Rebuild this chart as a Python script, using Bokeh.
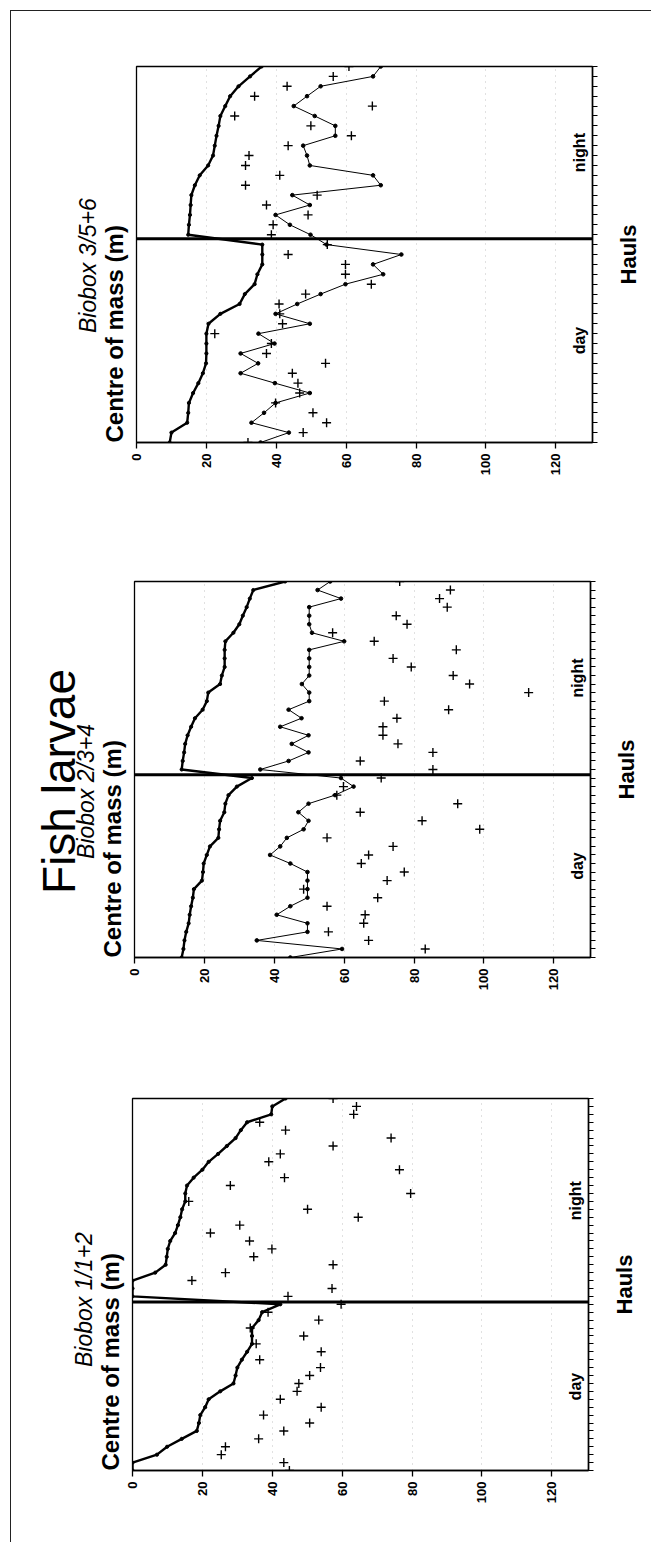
import math
from bokeh.plotting import figure
from bokeh.models import Range1d, FixedTicker, Label, Span
from bokeh.layouts import column, row
from bokeh.core.properties import value
from bokeh.embed import file_html
from bokeh.resources import INLINE

FONT = "Liberation Sans"
depth_ticks = [0, 20, 40, 60, 80, 100, 120]

# ---------------- Biobox 3/5+6 (top panel) ----------------
p1_hauls_day = list(range(0, 21))
p1_hauls_night = list(range(21, 39))
p1_boundary = 20.6
p1_thick_day = [9.5, 10.0, 14.5, 14.8, 15.0, 16.2, 17.7, 19.0, 19.9, 20.0, 20.0,
                20.0, 20.6, 24.0, 29.5, 31.0, 33.8, 34.6, 36.0, 36.0, 36.0]
p1_thick_night = [14.8, 15.0, 15.3, 15.5, 15.7, 16.7, 18.1, 20.5, 21.9, 22.4,
                  22.9, 23.5, 24.0, 25.4, 26.8, 29.2, 32.5, 35.8]
p1_thin_day = [35.5, 43.6, 32.9, 36.5, 39.8, 49.6, 39.6, 29.8, 34.8, 29.8, 39.5,
               34.9, 49.6, 39.8, 46.0, 52.7, 59.8, 70.6, 67.7, 75.8, 54.4]
p1_thin_night = [49.8, 43.9, 39.8, 49.6, 44.6, 69.9, 67.7, 49.6, 48.8, 47.7,
                 56.9, 56.9, 51.0, 45.0, 48.8, 52.7, 67.7, 69.9]
p1_cross_day = [31.9, 47.7, 54.4, 50.5, 39.8, 46.7, 46.2, 44.6, 54.1, 37.2, 38.6,
                22.4, 41.8, 41.0, 40.8, 48.4, 67.2, 59.8, 59.8, 43.4, 54.6]
p1_cross_night = [38.6, 39.1, 49.1, 37.2, 51.7, 31.2, 41.0, 31.2, 32.2, 43.4,
                  61.5, 49.9, 28.1, 67.5, 33.8, 43.1, 56.3, 60.8]

# ---------------- Biobox 2/3+4 (middle panel) ----------------
p2_hauls_day = list(range(0, 22))
p2_hauls_night = list(range(22, 45))
p2_cross_hauls_day = list(range(1, 22))
p2_boundary = 21.4
p2_thick_day = [13.5, 14.0, 14.3, 14.8, 15.5, 15.8, 16.2, 16.7, 17.0, 19.3, 19.6,
                19.8, 20.7, 21.6, 24.0, 24.2, 24.5, 25.7, 26.0, 26.9, 29.3, 33.6]
p2_thick_night = [13.5, 13.8, 14.2, 14.5, 15.2, 16.2, 17.3, 19.5, 20.7, 21.1, 24.5,
                  25.0, 25.8, 25.8, 25.8, 26.0, 28.3, 30.0, 31.0, 32.1, 33.0, 34.0, 43.1]
p2_thin_day = [44.6, 59.4, 35.0, 49.5, 49.5, 40.7, 44.6, 49.5, 49.5, 49.5, 49.5,
               44.6, 38.8, 41.7, 43.6, 48.4, 49.8, 46.9, 49.8, 57.4, 62.7, 59.1]
p2_thin_night = [36.0, 44.1, 49.8, 45.0, 49.8, 41.7, 47.8, 44.1, 50.0, 50.0, 47.9,
                 50.0, 50.0, 50.0, 50.0, 60.0, 50.8, 50.0, 50.0, 50.0, 59.1, 52.4, 56.0]
p2_cross_day = [83.2, 67.0, 55.5, 65.6, 66.0, 55.1, 69.6, 48.4, 72.3, 77.2, 64.9,
                67.0, 74.0, 55.1, 98.8, 82.3, 64.6, 92.5, 57.9, 59.8, 70.6]
p2_cross_night = [85.4, 64.6, 85.4, 75.4, 71.1, 71.1, 75.1, 89.9, 71.5, 112.8, 95.9,
                  91.2, 79.2, 74.0, 92.1, 68.6, 56.7, 78.0, 74.9, 89.5, 87.3, 90.4, 75.9]

# ---------------- Biobox 1/1+2 (bottom panel) ----------------
p3_hauls_day = list(range(0, 22))
p3_hauls_night = list(range(22, 48))
p3_boundary = 21.3
p3_thick_day = [0.0, 0.0, 7.0, 9.9, 14.1, 18.4, 19.0, 19.4, 20.8, 21.8, 25.1,
                28.9, 29.5, 30.0, 31.3, 32.8, 34.2, 34.2, 34.2, 36.1, 37.1, 42.3]
p3_thick_night = [0.0, 0.0, 0.0, 6.5, 9.5, 9.8, 10.1, 10.8, 12.2, 13.0, 13.7, 14.2,
                  15.1, 15.1, 15.6, 17.5, 20.0, 21.8, 24.5, 27.0, 29.5, 31.0, 32.8,
                  39.7, 40.0, 43.8]
p3_cross_day = [44.9, 43.3, 25.4, 26.6, 36.1, 43.3, 50.7, 37.5, 54.0, 42.3, 47.1,
                47.6, 50.7, 53.8, 36.4, 54.0, 35.4, 49.0, 33.7, 53.3, 38.8, 59.7]
p3_cross_night = [44.5, 57.1, 17.0, 26.6, 57.4, 34.7, 39.9, 33.5, 22.3, 30.7, 64.6,
                  50.1, 16.1, 79.6, 28.0, 43.5, 76.4, 39.0, 42.3, 57.4, 74.0, 43.8,
                  36.4, 63.3, 64.1, 57.4]

TOTAL_W = 640
MAIN_PAD_L = 6
MAIN_W = MAIN_PAD_L + 456 + 12


def strip(width, height, top, bottom, yrange):
    s = figure(width=width, height=height, x_range=Range1d(0, width), y_range=yrange,
               output_backend="svg", toolbar_location=None, title=None,
               x_axis_location=None, y_axis_location=None,
               min_border_left=0, min_border_right=0,
               min_border_top=top, min_border_bottom=bottom)
    s.outline_line_color = None
    s.grid.visible = False
    s.background_fill_color = "white"
    s.border_fill_color = "white"
    return s


def make_panel(height, top, bottom, frame_left, ymax, boundary,
               thick, thin, crosses, title, title_y, day_y, night_y, big=None):
    # frame_left: page x of the frame's left edge (content starts at 11.5)
    wl = int(round(frame_left - 11.5 - MAIN_PAD_L))
    wr = TOTAL_W - wl - MAIN_W
    yr = Range1d(0, ymax)
    p = figure(width=MAIN_W, height=height, x_range=Range1d(0, 130.5),
               y_range=yr, output_backend="svg",
               toolbar_location=None, title=None, y_axis_location="right",
               min_border_left=MAIN_PAD_L, min_border_right=12,
               min_border_top=top, min_border_bottom=bottom)
    p.outline_line_color = "black"
    p.outline_line_width = 1.3
    p.background_fill_color = "white"
    p.border_fill_color = "white"

    xa = p.xaxis[0]
    xa.ticker = FixedTicker(ticks=depth_ticks)
    xa.major_label_orientation = math.pi / 2
    xa.major_tick_in = 0
    xa.major_tick_out = 6
    xa.minor_tick_line_color = None
    xa.axis_line_width = 1.5
    xa.major_tick_line_width = 1.3
    xa.major_label_text_font = FONT
    xa.major_label_text_font_style = "bold"
    xa.major_label_text_font_size = "13px"
    xa.major_label_text_color = "black"
    xa.major_label_standoff = 5

    ya = p.yaxis[0]
    yt = list(range(0, ymax + 1))
    ya.ticker = FixedTicker(ticks=yt)
    ya.major_label_overrides = {t: "" for t in yt}
    ya.major_label_standoff = 0
    ya.major_tick_in = 0
    ya.major_tick_out = 5
    ya.minor_tick_line_color = None
    ya.axis_line_width = 1.5
    ya.major_tick_line_width = 1.2

    p.ygrid.visible = False
    p.xgrid.ticker = FixedTicker(ticks=depth_ticks[1:])
    p.xgrid.grid_line_color = "#777777"
    p.xgrid.grid_line_alpha = 0.45
    p.xgrid.grid_line_dash = "1 5"

    p.add_layout(Span(location=boundary, dimension="width",
                      line_color="black", line_width=3))

    tx, ty = thick
    p.line(tx, ty, line_color="black", line_width=2.4)
    p.scatter(tx, ty, marker="circle", size=3.2, color="black")
    if thin is not None:
        sx, sy = thin
        p.line(sx, sy, line_color="black", line_width=1.0)
        p.scatter(sx, sy, marker="circle", size=3.6, color="black")
    cx, cy = crosses
    p.scatter(cx, cy, marker="cross", size=9, line_width=1.4, color="black")

    for txt, yy in (("day", day_y), ("night", night_y)):
        p.add_layout(Label(x=126.7, y=yy, text=txt, angle=math.pi / 2,
                           text_font=FONT, text_font_style="bold",
                           text_font_size="16px", text_align="center",
                           text_baseline="alphabetic", text_color="black"))

    # left strip: panel title and axis title (positions relative to the frame edge)
    ls = strip(wl, height, top, bottom, yr)
    fl = wl + MAIN_PAD_L  # frame edge in strip pixels
    ls.text(x=[min(fl - 18.5, wl - 16)], y=[0], text=["Centre of mass (m)"], angle=math.pi / 2,
            text_font=value(FONT), text_font_style="bold", text_font_size="24px",
            text_align="left", text_baseline="alphabetic", text_color="black")
    ls.text(x=[fl - 48.5], y=[title_y], text=[title], angle=math.pi / 2,
            text_font=value(FONT), text_font_style="italic", text_font_size="23px",
            text_align="center", text_baseline="alphabetic", text_color="black")
    if big is not None:
        ls.text(x=[fl - 76], y=[big[1]], text=[big[0]], angle=math.pi / 2,
                text_font=value(FONT), text_font_style="normal", text_font_size="46px",
                text_align="center", text_baseline="alphabetic", text_color="black")

    # right strip: haul axis title
    rs = strip(wr, height, top, bottom, yr)
    rs.text(x=[24], y=[ymax / 2], text=["Hauls"], angle=math.pi / 2,
            text_font=value(FONT), text_font_style="bold", text_font_size="22px",
            text_align="center", text_baseline="alphabetic", text_color="black")
    return row(ls, p, rs, spacing=0)


r1 = make_panel(504, 55, 73, 136.5, 38, p1_boundary,
                (p1_thick_day + p1_thick_night, p1_hauls_day + p1_hauls_night),
                (p1_thin_day + p1_thin_night, p1_hauls_day + p1_hauls_night),
                (p1_cross_day + p1_cross_night, p1_hauls_day + p1_hauls_night),
                "Biobox  3/5+6", 18.2, 10.3, 29.3)

r2 = make_panel(515, 66, 73, 134.5, 44, p2_boundary,
                (p2_thick_day + p2_thick_night, p2_hauls_day + p2_hauls_night),
                (p2_thin_day + p2_thin_night, p2_hauls_day + p2_hauls_night),
                (p2_cross_day + p2_cross_night, p2_cross_hauls_day + p2_hauls_night),
                "Biobox  2/3+4", 19.8, 10.7, 32.7, big=("Fish larvae", 20.6))

r3 = make_panel(512, 68, 72, 132.5, 47, p3_boundary,
                (p3_thick_day + p3_thick_night, p3_hauls_day + p3_hauls_night),
                None,
                (p3_cross_day + p3_cross_night, p3_hauls_day + p3_hauls_night),
                "Biobox  1/1+2", 22.0, 10.6, 34.1)

layout = column(r1, r2, r3, spacing=0,
                styles={"border-top": "1.5px solid #222", "border-left": "1.5px solid #222",
                        "margin-left": "10px", "margin-top": "10px"})

open("out.html", "w").write(file_html(layout, INLINE))
